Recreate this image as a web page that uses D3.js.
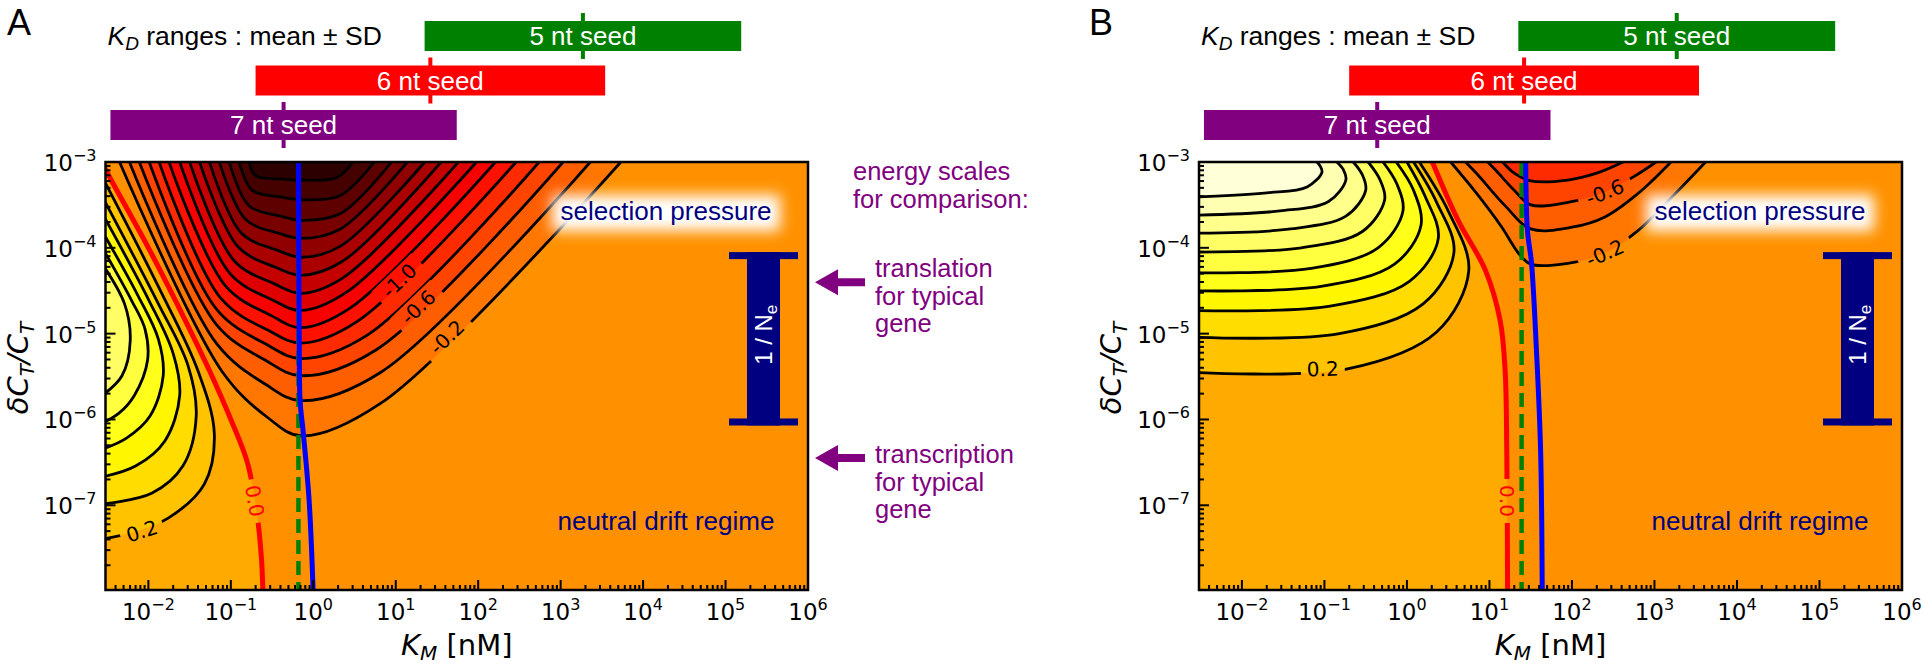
<!DOCTYPE html>
<html>
<head>
<meta charset="utf-8">
<script src="https://cdn.jsdelivr.net/npm/d3@7"></script>
<style>
  body { margin: 0; background: #fff; }
  svg { display: block; }
  text { font-family: "Liberation Sans", Arial, sans-serif; }
</style>
</head>
<body>
<div id="canvas"></div>
<script>
// ---------- data (log10 units) ----------
var xTickExp = [-2, -1, 0, 1, 2, 3, 4, 5, 6];
var yTickExp = [-7, -6, -5, -4, -3];

// K_D ranges, log10 nM
var seedNames = ["7 nt seed", "6 nt seed", "5 nt seed"];
var seedMean = [-0.36, 1.42, 3.27];
var seedSD = [2.10, 2.12, 1.92];

// 1/Ne band (log10 dC/C)
var neLog = [-6.07, -4.05];

// energy scales for comparison (log10 dC/C)
var energyNames = [["translation", "for typical", "gene"], ["transcription", "for typical", "gene"]];
var energyLog = [-4.40, -6.45];

// panel A contours: [log10 KM, log10 dC/C]
var negLevelsA = [-0.2, -0.4, -0.6, -0.8, -1.0, -1.2, -1.4, -1.6, -1.8, -2.0, -2.2, -2.4, -2.6, -2.8];
var negLinesA = [
  [[-2.35,-3.00],[-1.10,-5.45],[-0.55,-5.98],[-0.15,-6.19],[0.82,-5.81],[3.73,-3.00]],
  [[-2.23,-3.00],[-1.17,-5.12],[-0.58,-5.59],[-0.15,-5.78],[0.82,-5.45],[3.36,-3.00]],
  [[-2.11,-3.00],[-1.17,-4.90],[-0.58,-5.31],[-0.15,-5.49],[0.76,-5.19],[3.03,-3.00]],
  [[-1.99,-3.00],[-1.17,-4.72],[-0.56,-5.13],[-0.15,-5.29],[0.65,-5.02],[2.74,-3.00]],
  [[-1.87,-3.00],[-1.12,-4.59],[-0.53,-4.97],[-0.15,-5.11],[0.53,-4.86],[2.46,-3.00]],
  [[-1.75,-3.00],[-1.06,-4.45],[-0.51,-4.79],[-0.15,-4.93],[0.45,-4.70],[2.21,-3.00]],
  [[-1.62,-3.00],[-1.01,-4.30],[-0.49,-4.61],[-0.15,-4.73],[0.40,-4.52],[1.98,-3.00]],
  [[-1.50,-3.00],[-0.96,-4.15],[-0.47,-4.42],[-0.15,-4.53],[0.36,-4.35],[1.76,-3.00]],
  [[-1.38,-3.00],[-0.91,-3.99],[-0.45,-4.23],[-0.15,-4.32],[0.35,-4.16],[1.55,-3.00]],
  [[-1.26,-3.00],[-0.87,-3.83],[-0.43,-4.03],[-0.15,-4.11],[0.33,-3.98],[1.35,-3.00]],
  [[-1.14,-3.00],[-0.82,-3.67],[-0.42,-3.83],[-0.15,-3.89],[0.33,-3.78],[1.14,-3.00]],
  [[-1.02,-3.00],[-0.78,-3.51],[-0.40,-3.63],[-0.15,-3.68],[0.33,-3.60],[0.95,-3.00]],
  [[-0.90,-3.00],[-0.74,-3.33],[-0.38,-3.41],[-0.15,-3.44],[0.33,-3.39],[0.74,-3.00]],
  [[-0.78,-3.00],[-0.70,-3.16],[-0.37,-3.20],[-0.15,-3.21],[0.29,-3.18],[0.48,-3.00]]
];
var posLevelsA = [0.2, 0.4, 0.6, 0.8, 1.0, 1.2];
var posLinesA = [
  [[-2.6,-3.10],[-1.88,-4.45],[-1.40,-5.43],[-1.20,-6.17],[-1.32,-6.75],[-1.76,-7.15],[-2.21,-7.32],[-2.6,-7.40]],
  [[-2.6,-3.33],[-1.88,-4.65],[-1.52,-5.37],[-1.42,-5.96],[-1.58,-6.54],[-1.96,-6.86],[-2.6,-6.99]],
  [[-2.6,-3.53],[-2.00,-4.60],[-1.70,-5.23],[-1.62,-5.72],[-1.80,-6.25],[-2.15,-6.54],[-2.6,-6.68]],
  [[-2.6,-3.74],[-2.13,-4.55],[-1.88,-5.06],[-1.82,-5.49],[-1.98,-5.96],[-2.27,-6.22],[-2.6,-6.36]],
  [[-2.6,-3.93],[-2.20,-4.62],[-2.04,-4.95],[-2.01,-5.31],[-2.17,-5.72],[-2.36,-5.93],[-2.6,-6.06]],
  [[-2.6,-4.13],[-2.29,-4.65],[-2.22,-5.08],[-2.32,-5.49],[-2.6,-5.75]]
];
var zeroLineA = [[-2.6,-2.95],[-2.40,-3.30],[-2.0,-4.0],[-1.55,-4.85],[-1.25,-5.45],[-1.0,-6.0],[-0.80,-6.5],[-0.69,-7.05],[-0.63,-7.6],[-0.61,-8.05]];
var blueLineA = [[-0.18,-2.95],[-0.17,-5.20],[-0.16,-5.78],[-0.12,-6.17],[-0.05,-6.95],[0.0,-8.05]];
var greenKmA = -0.18;
var labelsA = [["0.2", -2.08, -7.30, -18], ["0.0", -0.71, -6.95, 80], ["-0.2", 1.62, -5.04, -44], ["-0.6", 1.27, -4.69, -44], ["-1.0", 1.04, -4.38, -44]];

// panel B contours
var negLevelsB = [-0.2, -0.4, -0.6, -0.8];
var negLinesB = [
  [[0.53,-3.00],[0.84,-3.36],[1.15,-3.76],[1.35,-4.06],[1.50,-4.19],[1.95,-4.18],[2.40,-4.06],[2.80,-3.80],[3.20,-3.42],[3.62,-3.00]],
  [[0.71,-3.00],[0.85,-3.14],[1.20,-3.52],[1.50,-3.78],[2.00,-3.76],[2.40,-3.64],[2.81,-3.36],[3.20,-3.00]],
  [[0.98,-3.00],[1.08,-3.10],[1.30,-3.33],[1.50,-3.50],[1.95,-3.47],[2.40,-3.35],[2.75,-3.17],[3.02,-3.00]],
  [[1.16,-3.00],[1.30,-3.13],[1.50,-3.22],[1.95,-3.21],[2.30,-3.13],[2.62,-3.00]]
];
var posLevelsB = [0.2, 0.4, 0.6, 0.8, 1.0, 1.2, 1.4, 1.6, 1.8];
var posLinesB = [
  [[0.15,-3.00],[0.50,-3.57],[0.75,-4.26],[0.36,-4.98],[-0.72,-5.41],[-2.6,-5.45]],
  [[0.08,-3.00],[0.36,-3.47],[0.57,-4.05],[0.20,-4.65],[-0.82,-5.00],[-2.6,-5.04]],
  [[0.00,-3.00],[0.22,-3.40],[0.38,-3.89],[0.03,-4.39],[-0.93,-4.68],[-2.6,-4.73]],
  [[-0.13,-3.00],[0.08,-3.33],[0.17,-3.74],[-0.15,-4.19],[-1.04,-4.45],[-2.6,-4.50]],
  [[-0.29,-3.00],[-0.12,-3.26],[-0.05,-3.58],[-0.35,-4.00],[-1.16,-4.24],[-2.6,-4.29]],
  [[-0.47,-3.00],[-0.33,-3.20],[-0.27,-3.44],[-0.54,-3.81],[-1.28,-4.00],[-2.6,-4.05]],
  [[-0.65,-3.00],[-0.54,-3.15],[-0.50,-3.33],[-0.74,-3.63],[-1.41,-3.78],[-2.6,-3.83]],
  [[-0.85,-3.00],[-0.77,-3.09],[-0.74,-3.21],[-0.95,-3.46],[-1.54,-3.57],[-2.6,-3.62]],
  [[-1.09,-3.00],[-1.05,-3.05],[-1.03,-3.12],[-1.21,-3.29],[-1.70,-3.36],[-2.6,-3.41]]
];
var zeroLineB = [[0.30,-2.98],[0.62,-3.68],[0.95,-4.26],[1.13,-4.85],[1.19,-5.43],[1.21,-6.36],[1.22,-8.05]];
var blueLineB = [[1.44,-2.95],[1.46,-3.79],[1.51,-4.18],[1.57,-5.20],[1.62,-6.36],[1.64,-8.05]];
var greenKmB = 1.39;
var labelsB = [["0.2", -1.02, -5.41, -2], ["0.0", 1.21, -6.95, 90], ["-0.6", 2.40, -3.35, -21], ["-0.2", 2.40, -4.06, -24]];

// ---------- drawing ----------
var W = 1925, H = 668;
var svg = d3.select("#canvas").append("svg").attr("width", W).attr("height", H);
var defs = svg.append("defs");
defs.append("filter").attr("id", "glow")
  .attr("x", "-40%").attr("y", "-100%").attr("width", "180%").attr("height", "300%")
  .append("feGaussianBlur").attr("stdDeviation", 7);

var hot = d3.scaleLinear().domain([0, 0.365, 0.746, 1])
  .range(["#0b0000", "#ff0000", "#ffff00", "#ffffff"]).clamp(true);
function bandColor(v) { return hot(0.60 + 0.19 * v); }

var seedColor = ["#800080", "#ff0000", "#008000"];
var seedRowY = [110, 65.5, 21];
var purple = "#800080", navy = "#000080";

var panels = [
  { id: "A", left: 105.5, right: 808, neg: negLinesA, negLv: negLevelsA, pos: posLinesA, posLv: posLevelsA,
    posMode: "left", zero: zeroLineA, blue: blueLineA, green: greenKmA, labels: labelsA, letterX: 7 },
  { id: "B", left: 1199, right: 1902, neg: negLinesB, negLv: negLevelsB, pos: posLinesB, posLv: posLevelsB,
    posMode: "corner", zero: zeroLineB, blue: blueLineB, green: greenKmB, labels: labelsB, letterX: 1089 }
];

panels.forEach(function(p) {
  var x = d3.scaleLog().domain([Math.pow(10, -2.52), 1e6]).range([p.left, p.right]);
  var y = d3.scaleLog().domain([1.03e-8, 1e-3]).range([590, 162]);
  var px = function(d) { return x(Math.pow(10, d[0])); };
  var py = function(d) { return y(Math.pow(10, d[1])); };
  var line = d3.line().x(px).y(py).curve(d3.curveCatmullRom.alpha(0.5));
  var top = y(1e-3), bot = y(1.03e-8);
  var L = p.left - 40, T = top - 40, Bt = bot + 40;

  function fillPath(pts, corners) {
    return line(pts) + corners.map(function(c) { return "L" + c[0] + "," + c[1]; }).join("") + "Z";
  }

  defs.append("clipPath").attr("id", "clip" + p.id)
    .append("rect").attr("x", p.left).attr("y", top).attr("width", p.right - p.left).attr("height", bot - top);

  // label gaps in contour lines
  var mask = defs.append("mask").attr("id", "mask" + p.id).attr("maskUnits", "userSpaceOnUse")
    .attr("x", 0).attr("y", 0).attr("width", W).attr("height", H);
  mask.append("rect").attr("width", W).attr("height", H).attr("fill", "#fff");
  p.labels.forEach(function(l) {
    var w = l[0].length * 12 + 8;
    mask.append("rect")
      .attr("transform", "translate(" + x(Math.pow(10, l[1])) + "," + y(Math.pow(10, l[2])) + ") rotate(" + l[3] + ")")
      .attr("x", -w / 2).attr("y", -11).attr("width", w).attr("height", 22).attr("fill", "#000");
  });

  var g = svg.append("g").attr("clip-path", "url(#clip" + p.id + ")");

  // filled bands
  g.append("rect").attr("x", p.left).attr("y", top).attr("width", p.right - p.left).attr("height", bot - top)
    .attr("fill", bandColor(-0.1));
  var z = p.zero;
  g.append("path").attr("fill", bandColor(0.1))
    .attr("d", fillPath(z, [[px(z[z.length - 1]), Bt], [L, Bt], [L, T], [px(z[0]), T]]));
  p.pos.forEach(function(pts, i) {
    var last = pts[pts.length - 1];
    var corners = p.posMode === "left"
      ? [[L, py(last)], [L, py(pts[0])]]
      : [[L, py(last)], [L, T], [px(pts[0]), T]];
    g.append("path").attr("fill", bandColor(p.posLv[i] + 0.1)).attr("d", fillPath(pts, corners));
  });
  p.neg.forEach(function(pts, i) {
    var last = pts[pts.length - 1];
    g.append("path").attr("fill", bandColor(p.negLv[i] - 0.1))
      .attr("d", fillPath(pts, [[px(last), T], [px(pts[0]), T]]));
  });

  // contour lines
  var lg = g.append("g").attr("mask", "url(#mask" + p.id + ")")
    .attr("fill", "none").attr("stroke-linejoin", "round");
  lg.selectAll("path.pos").data(p.pos).enter().append("path")
    .attr("d", line).attr("stroke", "#000").attr("stroke-width", 2.8);
  lg.selectAll("path.neg").data(p.neg).enter().append("path")
    .attr("d", line).attr("stroke", "#000").attr("stroke-width", 2.8);
  lg.append("path").attr("d", line(p.zero)).attr("stroke", "#ff0000").attr("stroke-width", 5);

  g.append("line").attr("x1", x(Math.pow(10, p.green))).attr("x2", x(Math.pow(10, p.green)))
    .attr("y1", top).attr("y2", bot).attr("stroke", "#008000").attr("stroke-width", 4.5)
    .attr("stroke-dasharray", "14,7");
  g.append("path").attr("d", line(p.blue)).attr("fill", "none").attr("stroke", "#0000ff").attr("stroke-width", 5);

  // annotations inside plot
  var cx = p.right - 142;
  g.append("rect").attr("x", cx - 114).attr("y", 195).attr("width", 228).attr("height", 36)
    .attr("fill", "#fff").attr("filter", "url(#glow)");
  g.append("text").attr("x", cx).attr("y", 220).attr("text-anchor", "middle")
    .style("font-size", "26px").attr("fill", navy).text("selection pressure");
  g.append("text").attr("x", cx).attr("y", 530).attr("text-anchor", "middle")
    .style("font-size", "26px").attr("fill", navy).text("neutral drift regime");

  // contour labels
  p.labels.forEach(function(l) {
    g.append("text")
      .attr("transform", "translate(" + x(Math.pow(10, l[1])) + "," + y(Math.pow(10, l[2])) + ") rotate(" + l[3] + ")")
      .attr("text-anchor", "middle").attr("dy", "0.36em")
      .style("font-family", "DejaVu Sans").style("font-size", "20px")
      .attr("fill", l[0] === "0.0" ? "#ff0000" : "#000").text(l[0]);
  });

  // 1/Ne bar
  var ny0 = y(Math.pow(10, neLog[1])), ny1 = y(Math.pow(10, neLog[0]));
  var bg = svg.append("g").attr("fill", navy);
  bg.append("rect").attr("x", p.right - 61).attr("y", ny0).attr("width", 33).attr("height", ny1 - ny0);
  bg.append("rect").attr("x", p.right - 79).attr("y", ny0).attr("width", 69).attr("height", 7);
  bg.append("rect").attr("x", p.right - 79).attr("y", ny1 - 7).attr("width", 69).attr("height", 7);
  var nt = svg.append("text").attr("transform", "translate(" + (p.right - 44.5) + "," + ((ny0 + ny1) / 2 - 4) + ") rotate(-90)")
    .attr("text-anchor", "middle").attr("dy", "0.35em").attr("fill", "#fff").style("font-size", "24px");
  nt.append("tspan").text("1 / N");
  nt.append("tspan").attr("dy", 5).style("font-size", "17px").text("e");

  // frame
  svg.append("rect").attr("x", p.left).attr("y", top).attr("width", p.right - p.left).attr("height", bot - top)
    .attr("fill", "none").attr("stroke", "#000").attr("stroke-width", 2.5);

  // ticks (inward)
  var ax = svg.append("g").attr("stroke", "#000").attr("stroke-width", 2);
  x.ticks().forEach(function(t) {
    var e = Math.round(Math.log10(t));
    var major = Math.abs(Math.log10(t) - e) < 1e-6;
    ax.append("line").attr("x1", x(t)).attr("x2", x(t)).attr("y1", bot).attr("y2", bot - (major ? 10 : 5));
  });
  y.ticks().forEach(function(t) {
    var e = Math.round(Math.log10(t));
    var major = Math.abs(Math.log10(t) - e) < 1e-6;
    ax.append("line").attr("y1", y(t)).attr("y2", y(t)).attr("x1", p.left).attr("x2", p.left + (major ? 10 : 5));
  });

  var xl = svg.selectAll(null).data(xTickExp).enter().append("text")
    .attr("x", function(d) { return x(Math.pow(10, d)); }).attr("y", 620).attr("text-anchor", "middle")
    .style("font-family", "DejaVu Sans").style("font-size", "23px");
  xl.append("tspan").text("10");
  xl.append("tspan").attr("dy", -10).style("font-size", "16px")
    .text(function(d) { return (d < 0 ? "\u2212" : "") + Math.abs(d); });

  var yl = svg.selectAll(null).data(yTickExp).enter().append("text")
    .attr("x", p.left - 9).attr("y", function(d) { return y(Math.pow(10, d)) + 9; }).attr("text-anchor", "end")
    .style("font-family", "DejaVu Sans").style("font-size", "23px");
  yl.append("tspan").text("10");
  yl.append("tspan").attr("dy", -10).style("font-size", "16px")
    .text(function(d) { return "\u2212" + Math.abs(d); });

  // axis titles
  var xt = svg.append("text").attr("x", (p.left + p.right) / 2).attr("y", 655).attr("text-anchor", "middle")
    .style("font-family", "DejaVu Sans").style("font-size", "29px");
  xt.append("tspan").style("font-style", "italic").text("K");
  xt.append("tspan").style("font-style", "italic").style("font-size", "20px").attr("dy", 5).text("M");
  xt.append("tspan").attr("dy", -5).text(" [nM]");

  var yt = svg.append("text").attr("transform", "translate(" + (p.left - 78) + ",368) rotate(-90)")
    .attr("text-anchor", "middle").style("font-family", "DejaVu Sans").style("font-size", "29px")
    .style("font-style", "italic");
  yt.append("tspan").text("\u03b4C");
  yt.append("tspan").style("font-size", "20px").attr("dy", 6).text("T");
  yt.append("tspan").attr("dy", -6).text("/C");
  yt.append("tspan").style("font-size", "20px").attr("dy", 6).text("T");

  // panel letter and K_D header
  svg.append("text").attr("x", p.letterX).attr("y", 35).style("font-size", "36px").text(p.id);
  var kd = svg.append("text").attr("x", p.left + 2).attr("y", 45).style("font-size", "26.5px");
  kd.append("tspan").style("font-style", "italic").text("K");
  kd.append("tspan").style("font-style", "italic").style("font-size", "19px").attr("dy", 5).text("D");
  kd.append("tspan").attr("dy", -5).text(" ranges : mean \u00b1  SD");

  // seed K_D bars
  seedNames.forEach(function(name, i) {
    var lo = x(Math.pow(10, seedMean[i] - seedSD[i])), hi = x(Math.pow(10, seedMean[i] + seedSD[i]));
    var m = x(Math.pow(10, seedMean[i])), ry = seedRowY[i];
    svg.append("rect").attr("x", lo).attr("y", ry).attr("width", hi - lo).attr("height", 30).attr("fill", seedColor[i]);
    svg.append("rect").attr("x", m - 2).attr("y", ry - 8).attr("width", 4).attr("height", 46).attr("fill", seedColor[i]);
    svg.append("text").attr("x", m).attr("y", ry + 24).attr("text-anchor", "middle")
      .attr("fill", "#fff").style("font-size", "26px").text(name);
  });

  // energy scale arrows (panel A side only)
  if (p.id === "A") {
    var eg = svg.append("g").attr("fill", purple);
    eg.append("text").attr("x", 853).attr("y", 180).style("font-size", "25.5px").text("energy scales");
    eg.append("text").attr("x", 853).attr("y", 208).style("font-size", "25.5px").text("for comparison:");
    energyLog.forEach(function(v, i) {
      var ay = y(Math.pow(10, v));
      eg.append("path").attr("d", "M815," + ay + "L838," + (ay - 13) + "L838," + (ay - 4) + "L865," + (ay - 4) +
        "L865," + (ay + 4) + "L838," + (ay + 4) + "L838," + (ay + 13) + "Z");
      energyNames[i].forEach(function(s, j) {
        eg.append("text").attr("x", 875).attr("y", ay + (i === 0 ? -5 : 5) + j * 27.5)
          .style("font-size", "25.5px").text(s);
      });
    });
  }
});
</script>
</body>
</html>
